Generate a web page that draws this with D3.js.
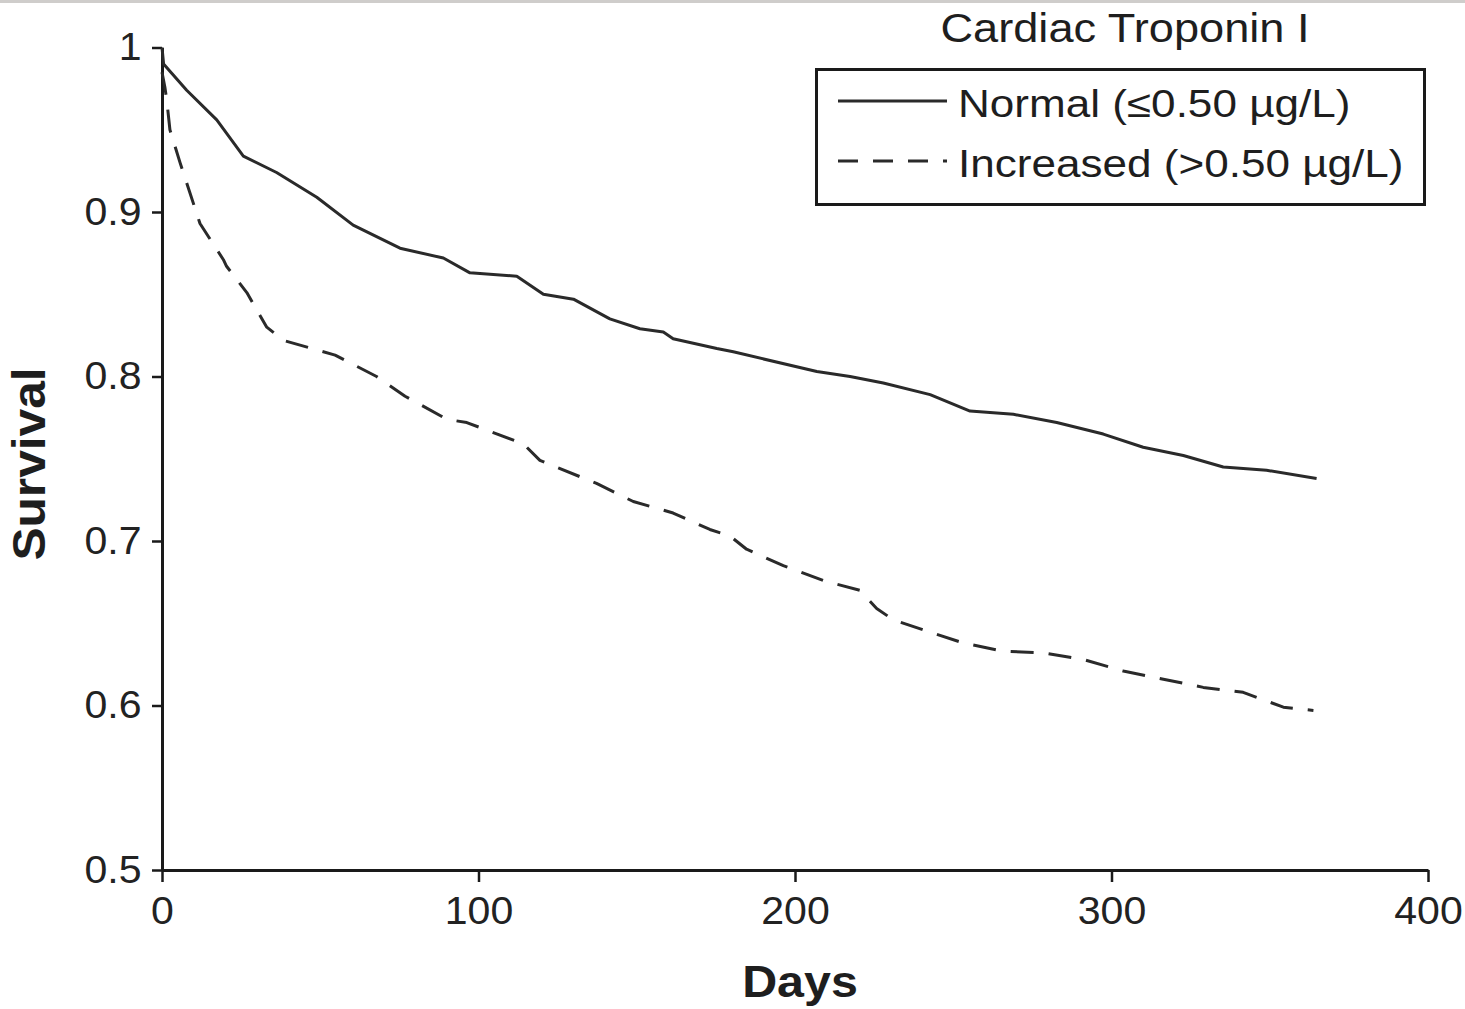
<!DOCTYPE html>
<html>
<head>
<meta charset="utf-8">
<script src="https://cdn.jsdelivr.net/npm/d3@7"></script>
<style>
  html, body { margin: 0; padding: 0; background: #fff; }
  svg { display: block; font-family: "Liberation Sans", Arial, sans-serif; }
</style>
</head>
<body>
<svg id="chart" width="1465" height="1009"></svg>
<script>
// ---- data ----
const xTicks = [0, 100, 200, 300, 400];
const yTicks = [0.5, 0.6, 0.7, 0.8, 0.9, 1];
const yTickLabels = ["0.5", "0.6", "0.7", "0.8", "0.9", "1"];

const normalDays = [0, 0.5, 7.8, 17.3, 25.7, 36.2, 48.9, 60.4, 75.2, 88.9, 97.3, 112.1, 120.5, 130, 141.5, 151, 158.4, 161.5, 175.3, 180.5, 206.9, 217.4, 227.9, 242.7, 255.3, 269, 282.7, 297.4, 310, 322.7, 335.3, 349, 364.8];
const normalSurv = [1.0, 0.99, 0.974, 0.956, 0.934, 0.924, 0.909, 0.892, 0.878, 0.872, 0.863, 0.861, 0.850, 0.847, 0.835, 0.829, 0.827, 0.823, 0.817, 0.815, 0.803, 0.800, 0.796, 0.789, 0.779, 0.777, 0.772, 0.765, 0.757, 0.752, 0.745, 0.743, 0.738];

const increasedDays = [0, 0.9, 1.5, 2.5, 5.7, 12, 19.4, 20.4, 26.8, 33.1, 38.3, 54.7, 67.8, 76.8, 90, 96.3, 114.2, 119.4, 137.3, 148.9, 161.5, 173.1, 179.5, 184.7, 196.3, 208.9, 220.5, 225.8, 231.1, 240.5, 253.2, 265.8, 278.5, 291.1, 303.7, 316.4, 329, 341.6, 354.3, 363.8];
const increasedSurv = [0.985, 0.976, 0.968, 0.950, 0.930, 0.893, 0.871, 0.867, 0.851, 0.830, 0.822, 0.813, 0.800, 0.788, 0.774, 0.772, 0.759, 0.749, 0.735, 0.724, 0.717, 0.707, 0.703, 0.695, 0.685, 0.676, 0.670, 0.659, 0.652, 0.646, 0.638, 0.633, 0.632, 0.628, 0.621, 0.616, 0.611, 0.608, 0.599, 0.597];

const seriesNames = ["Normal (\u22640.50 \u00b5g/L)", "Increased (>0.50 \u00b5g/L)"];
const legendTitle = "Cardiac Troponin I";
const xLabel = "Days";
const yLabel = "Survival";

// ---- layout ----
const svg = d3.select("#chart");
const ink = "#2a2a2a";
const axisInk = "#1a1a1a";
const dash = "23,15";

const x = d3.scaleLinear().domain([0, 400]).range([162, 1428]);
const y = d3.scaleLinear().domain([0.5, 1]).range([870, 47.5]);

// thin grey strip at top of the image
svg.append("rect").attr("x", 0).attr("y", 0).attr("width", 1465).attr("height", 3).attr("fill", "#cfcdcb");

// axes
const xAxis = d3.axisBottom(x).tickValues(xTicks).tickFormat(d3.format("d"))
  .tickSize(12).tickSizeOuter(0).tickPadding(15);
const yAxis = d3.axisLeft(y).tickValues(yTicks).tickFormat((d, i) => yTickLabels[i])
  .tickSize(10).tickSizeOuter(0).tickPadding(9);

const gx = svg.append("g").attr("transform", "translate(0,870)").call(xAxis);
const gy = svg.append("g").attr("transform", "translate(162,0)").call(yAxis);

[gx, gy].forEach(g => {
  g.select(".domain").attr("stroke", axisInk).attr("stroke-width", 3);
  g.selectAll(".tick line").attr("stroke", axisInk).attr("stroke-width", 2.5);
  g.selectAll(".tick text")
    .attr("fill", "#222")
    .style("font-size", "38px")
    .style("font-family", "'Liberation Sans', Arial, sans-serif");
});
gx.selectAll(".tick text").attr("transform", "scale(1.08,1)");
gy.selectAll(".tick text").attr("transform", "scale(1.08,1)");

// curves
const line = d3.line().x(d => x(d[0])).y(d => y(d[1]));
const normalPts = normalDays.map((d, i) => [d, normalSurv[i]]);
const increasedPts = increasedDays.map((d, i) => [d, increasedSurv[i]]);

svg.append("path").datum(normalPts).attr("d", line)
  .attr("fill", "none").attr("stroke", ink).attr("stroke-width", 3)
  .attr("stroke-linejoin", "round");
svg.append("path").datum(increasedPts).attr("d", line)
  .attr("fill", "none").attr("stroke", ink).attr("stroke-width", 3)
  .attr("stroke-dasharray", dash).attr("stroke-linejoin", "round");

// text helper with horizontal stretch
function stretchedText(parent, tx, ty, str, size, sx, anchor, weight, rotate) {
  const g = parent.append("g")
    .attr("transform", `translate(${tx},${ty})` + (rotate ? ` rotate(${rotate})` : "") + ` scale(${sx},1)`);
  g.append("text").text(str)
    .attr("text-anchor", anchor)
    .attr("fill", "#1e1e1e")
    .style("font-size", size + "px")
    .style("font-weight", weight || "normal");
  return g;
}

// axis titles
stretchedText(svg, 800, 997, xLabel, 44, 1.1, "middle", "bold");
stretchedText(svg, 45, 464, yLabel, 46, 1.08, "middle", "bold", -90);

// legend
stretchedText(svg, 1125, 42, legendTitle, 40, 1.13, "middle");
svg.append("rect").attr("x", 816.5).attr("y", 69.5).attr("width", 608).attr("height", 135)
  .attr("fill", "none").attr("stroke", axisInk).attr("stroke-width", 3);

const legendRows = [
  { name: seriesNames[0], ly: 101, ty: 117, dashed: false },
  { name: seriesNames[1], ly: 161, ty: 177, dashed: true }
];
legendRows.forEach(r => {
  svg.append("line").attr("x1", 838).attr("x2", 947).attr("y1", r.ly).attr("y2", r.ly)
    .attr("stroke", ink).attr("stroke-width", 3)
    .attr("stroke-dasharray", r.dashed ? "20,15" : null);
  stretchedText(svg, 958, r.ty, r.name, 38, 1.16, "start");
});
</script>
</body>
</html>
